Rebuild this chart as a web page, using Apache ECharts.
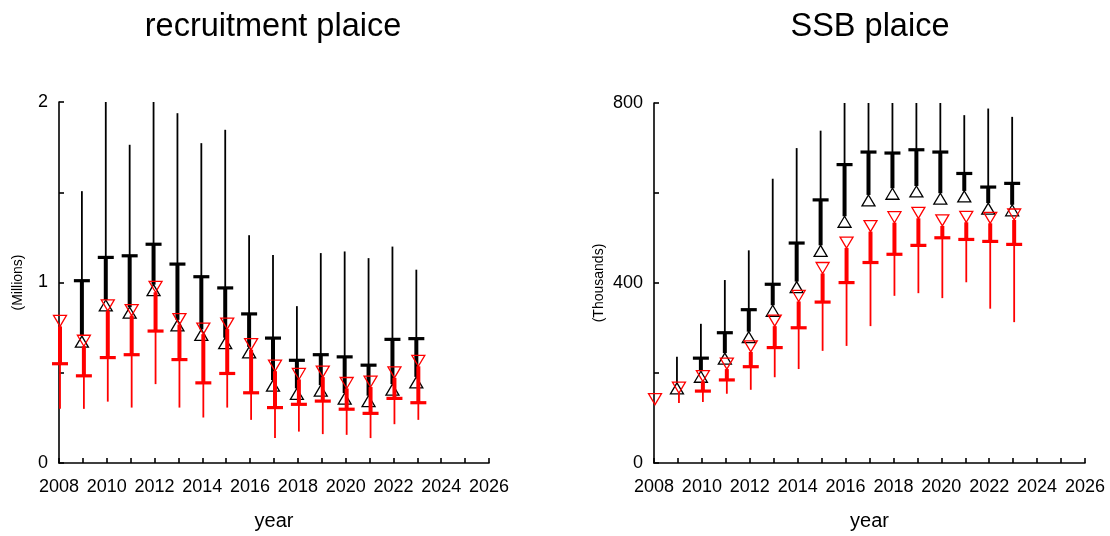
<!DOCTYPE html>
<html>
<head>
<meta charset="utf-8">
<script src="https://cdn.jsdelivr.net/npm/echarts@6/dist/echarts.min.js"></script>
<style>
  html, body { margin: 0; padding: 0; background: #fff; }
  #chart { width: 1110px; height: 536px; }
</style>
</head>
<body>
<div id="chart"></div>
<script>
// Years of the assessment runs
const years = [2008, 2009, 2010, 2011, 2012, 2013, 2014, 2015, 2016, 2017, 2018, 2019, 2020, 2021, 2022, 2023];

// Recruitment (millions): black = upper estimate, red = lower estimate
const recBlackMid  = [null, 0.67, 0.87, 0.83, 0.955, 0.76, 0.707, 0.661, 0.61, 0.426, 0.38, 0.398, 0.354, 0.34, 0.404, 0.444];
const recBlackQ    = [null, 1.01, 1.139, 1.148, 1.212, 1.102, 1.032, 0.97, 0.826, 0.692, 0.569, 0.6, 0.588, 0.542, 0.685, 0.689];
const recBlackHigh = [null, 1.506, 2.0, 1.763, 2.0, 1.938, 1.772, 1.846, 1.262, 1.153, 0.869, 1.163, 1.172, 1.135, 1.199, 1.071];
const recRedMid    = [0.79, 0.68, 0.876, 0.85, 0.979, 0.8, 0.747, 0.775, 0.661, 0.542, 0.496, 0.509, 0.446, 0.454, 0.505, 0.569];
const recRedQ      = [0.55, 0.483, 0.584, 0.6, 0.731, 0.573, 0.444, 0.496, 0.389, 0.307, 0.325, 0.343, 0.298, 0.275, 0.358, 0.334];
const recRedLow    = [0.3, 0.3, 0.34, 0.307, 0.437, 0.307, 0.252, 0.307, 0.239, 0.138, 0.174, 0.16, 0.156, 0.138, 0.215, 0.239];

// Spawning stock biomass (thousands)
const ssbBlackMid  = [null, 164.8, 190.6, 230.8, 278.5, 337.2, 389.9, 470.4, 535, 582.4, 597.2, 602.3, 586.2, 591.3, 564.2, 560.5];
const ssbBlackQ    = [null, null, 233, 289.5, 340.7, 397.2, 488.8, 584.7, 663.1, 691, 688.8, 696.1, 691, 643.4, 613.2, 621.4];
const ssbBlackHigh = [null, 236, 309.3, 406.6, 472.6, 631.7, 699.8, 738.5, 800, 800, 800, 800, 800, 773, 787.7, 769.2];
const ssbRedMid    = [142.9, 168.6, 194.3, 222, 260.2, 317.4, 372.3, 434.5, 491, 527.5, 547.3, 557, 540.1, 548.2, 546, 553.3];
const ssbRedQ      = [null, null, 159.8, 184.6, 214, 256.5, 300.5, 357.6, 400.9, 445.5, 463.8, 483.6, 500.5, 496.8, 492.4, 485.8];
const ssbRedLow    = [null, 133.4, 135.6, 153.9, 162.7, 190.6, 208.8, 249.2, 260.2, 304.2, 371.5, 377.4, 366.4, 401.6, 342.9, 313];

// Tick labels
const xLabelYears = [2008, 2010, 2012, 2014, 2016, 2018, 2020, 2022, 2024, 2026];
const recLabels = [0, 1, 2];
const ssbLabels = [0, 400, 800];

const FONT = 'Liberation Sans, Arial, sans-serif';

// One interval glyph: hollow triangle at mid, thick bar from the triangle to the
// quartile tick, thin whisker out to the extreme. dir = -1 draws upward (black), +1 downward (red).
function makeRenderer(mid, q, ext, dir, color, dx) {
  return function (params, api) {
    const i = params.dataIndex;
    const yr = years[i];
    const children = [];
    if (mid[i] == null) return { type: 'group', children };
    const c = api.coord([yr, mid[i]]);
    const x = c[0] + dx;
    const yc = c[1];
    const apexY = yc + dir * 6;
    if (ext[i] != null) {
      const ye = api.coord([yr, ext[i]])[1];
      children.push({ type: 'line', shape: { x1: x, y1: apexY, x2: x, y2: ye },
        style: { stroke: color, lineWidth: 1.8 } });
    }
    if (q[i] != null) {
      const yq = api.coord([yr, q[i]])[1];
      children.push({ type: 'line', shape: { x1: x, y1: apexY, x2: x, y2: yq },
        style: { stroke: color, lineWidth: 4 } });
      children.push({ type: 'line', shape: { x1: x - 8, y1: yq, x2: x + 8, y2: yq },
        style: { stroke: color, lineWidth: 3.2 } });
    }
    const pts = dir < 0
      ? [[x, yc - 6], [x - 6.5, yc + 5], [x + 6.5, yc + 5]]
      : [[x, yc + 6], [x - 6.5, yc - 5], [x + 6.5, yc - 5]];
    children.push({ type: 'polygon', shape: { points: pts },
      style: { fill: 'none', stroke: color, lineWidth: 1.3 } });
    return { type: 'group', children };
  };
}

function xAxis(gridIndex) {
  return {
    gridIndex, type: 'value', min: 2008, max: 2026, interval: 1,
    name: 'year', nameLocation: 'middle', nameGap: 48,
    nameTextStyle: { fontFamily: FONT, fontSize: 20, color: '#000' },
    axisLine: { show: true, onZero: false, lineStyle: { color: '#000', width: 1.6 } },
    axisTick: { show: true, inside: true, length: 5, lineStyle: { color: '#000', width: 1.6 } },
    axisLabel: { margin: 15, fontFamily: FONT, fontSize: 18, color: '#000',
      showMinLabel: true, showMaxLabel: true,
      formatter: v => xLabelYears.includes(v) ? String(v) : '' },
    splitLine: { show: false }
  };
}

function yAxis(gridIndex, max, interval, labels, name, gap) {
  return {
    gridIndex, type: 'value', min: 0, max, interval,
    name, nameLocation: 'middle', nameGap: gap, nameRotate: 90,
    nameTextStyle: { fontFamily: FONT, fontSize: 14, color: '#000' },
    axisLine: { show: true, lineStyle: { color: '#000', width: 1.6 } },
    axisTick: { show: true, inside: true, length: 5, lineStyle: { color: '#000', width: 1.6 } },
    axisLabel: { margin: 11, fontFamily: FONT, fontSize: 18, color: '#000',
      showMinLabel: true, showMaxLabel: true,
      formatter: v => labels.includes(v) ? String(v) : '' },
    splitLine: { show: false }
  };
}

function series(xi, mid, q, ext, dir, color, dx) {
  return {
    type: 'custom', xAxisIndex: xi, yAxisIndex: xi, clip: false,
    renderItem: makeRenderer(mid, q, ext, dir, color, dx),
    data: years.map((y, i) => [y, mid[i] == null ? 0 : mid[i]]),
    encode: { x: 0, y: 1 },
    silent: true
  };
}

const chart = echarts.init(document.getElementById('chart'), null, { renderer: 'canvas' });
chart.setOption({
  animation: false,
  backgroundColor: '#fff',
  title: [
    { text: 'recruitment plaice', left: 268, top: 6, textAlign: 'center',
      textStyle: { fontFamily: FONT, fontSize: 32.5, fontWeight: 'normal', color: '#000' } },
    { text: 'SSB plaice', left: 865, top: 6, textAlign: 'center',
      textStyle: { fontFamily: FONT, fontSize: 32.5, fontWeight: 'normal', color: '#000' } }
  ],
  grid: [
    { left: 59, top: 102, width: 430, height: 363 },
    { left: 654, top: 103, width: 431, height: 364 }
  ],
  xAxis: [xAxis(0), xAxis(1)],
  yAxis: [
    yAxis(0, 2, 0.5, recLabels, '(Millions)', 34),
    yAxis(1, 800, 200, ssbLabels, '(Thousands)', 48)
  ],
  series: [
    series(0, recBlackMid, recBlackQ, recBlackHigh, -1, '#000000', -1),
    series(0, recRedMid, recRedQ, recRedLow, 1, '#ff0000', 1),
    series(1, ssbBlackMid, ssbBlackQ, ssbBlackHigh, -1, '#000000', -1),
    series(1, ssbRedMid, ssbRedQ, ssbRedLow, 1, '#ff0000', 1)
  ]
});
</script>
</body>
</html>
